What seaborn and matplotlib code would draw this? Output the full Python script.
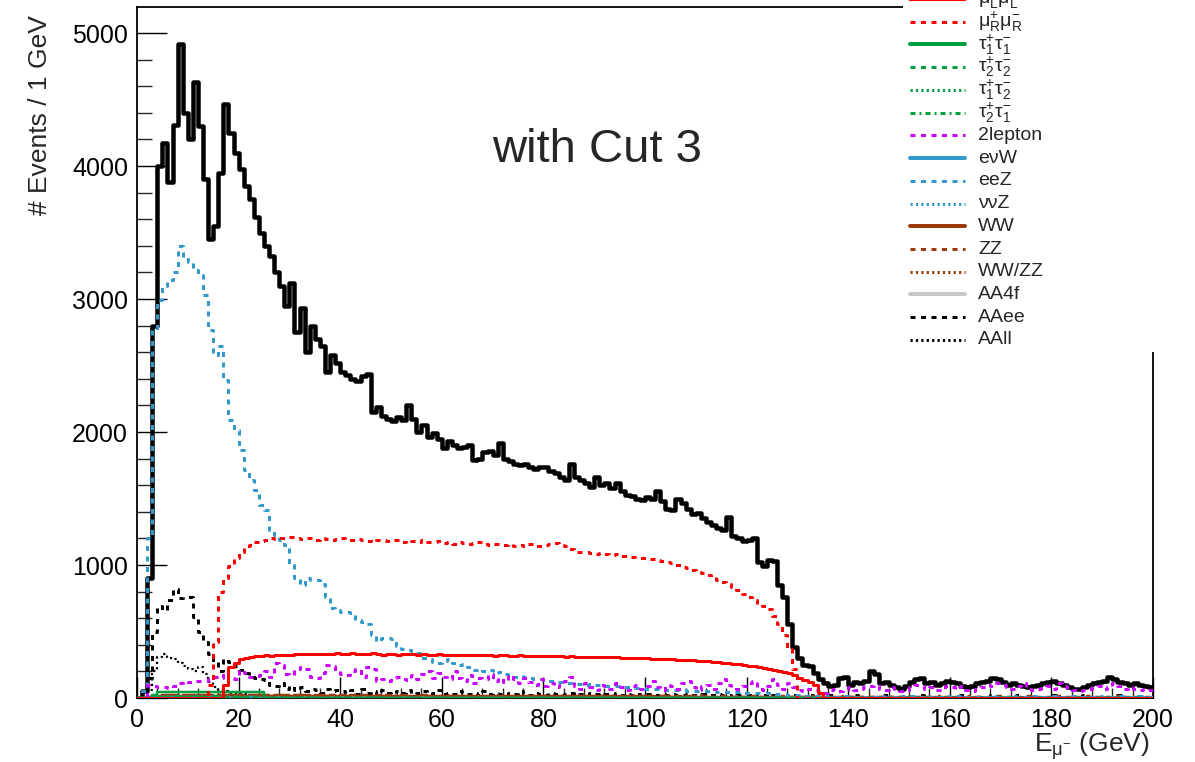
import numpy as np
import pandas as pd
import matplotlib
matplotlib.use("Agg")
import matplotlib.pyplot as plt
import seaborn as sns
from matplotlib.lines import Line2D
from matplotlib.patches import Rectangle
from matplotlib.ticker import MultipleLocator

# ---------------- data (events per 1 GeV bin, E from 0 to 200 GeV) ----------------
total = [
    0, 50, 900, 2800, 4000, 4170, 3880, 4310, 4920, 4400,
    4200, 4630, 4300, 3900, 3450, 3550, 3950, 4470, 4250, 4100,
    3980, 3850, 3750, 3620, 3500, 3400, 3320, 3200, 3100, 2950,
    3120, 2750, 2930, 2600, 2800, 2700, 2650, 2450, 2580, 2520,
    2450, 2430, 2400, 2380, 2420, 2440, 2150, 2190, 2120, 2100,
    2080, 2110, 2090, 2200, 2100, 2000, 2050, 1960, 1990, 1950,
    1880, 1930, 1900, 1880, 1890, 1900, 1790, 1800, 1850, 1860,
    1830, 1920, 1800, 1780, 1760, 1750, 1760, 1740, 1720, 1740,
    1740, 1710, 1690, 1660, 1640, 1760, 1660, 1640, 1620, 1590,
    1660, 1600, 1620, 1580, 1620, 1560, 1530, 1520, 1500, 1490,
    1510, 1500, 1560, 1480, 1420, 1410, 1500, 1470, 1420, 1380,
    1390, 1350, 1320, 1300, 1280, 1260, 1360, 1220, 1200, 1180,
    1190, 1200, 1020, 990, 1040, 1030, 850, 760, 560, 380,
    300, 250, 240, 190, 140, 110, 90, 100, 150, 160,
    100, 120, 110, 130, 200, 180, 110, 120, 100, 80,
    70, 90, 120, 140, 150, 110, 120, 100, 110, 130,
    120, 110, 90, 80, 90, 110, 120, 130, 150, 140,
    120, 100, 110, 100, 90, 80, 90, 100, 110, 120,
    130, 110, 100, 80, 70, 70, 80, 100, 110, 120,
    130, 160, 140, 120, 110, 100, 110, 100, 90, 80]

mumuR_start = 14
mumuR = [
    100, 420, 800, 900, 990, 1050, 1100, 1130, 1150, 1170, 1180, 1190, 1200,
    1195, 1205, 1200, 1210, 1200, 1195, 1205, 1200, 1190, 1200, 1195, 1185, 1195,
    1200, 1190, 1185, 1195, 1190, 1180, 1195, 1185, 1190, 1180,
    1185, 1190, 1175, 1185, 1180, 1170, 1185, 1175, 1170, 1180,
    1165, 1175, 1160, 1170, 1165, 1155, 1165, 1170, 1160, 1150,
    1160, 1155, 1150, 1160, 1145, 1150, 1140, 1155, 1145, 1140,
    1150, 1160, 1165, 1150, 1140, 1120, 1100, 1100, 1095, 1090,
    1085, 1090, 1080, 1075, 1080, 1070, 1065, 1060, 1055, 1050,
    1050, 1045, 1040, 1030, 1025, 1015, 1000, 985, 975, 965,
    950, 940, 925, 910, 890, 870, 860, 835, 810, 780,
    760, 740, 710, 690, 670, 620, 560, 470, 370, 220]

mumuL_start = 17
mumuL = [
    100, 230, 265, 290, 300, 310, 315, 315, 320, 318, 322, 320, 325, 325, 330,
    328, 330, 332, 330, 328, 332, 330, 335,
    332, 330, 335, 330, 328, 332, 335, 330, 325, 328,
    330, 326, 330, 332, 328, 325, 330, 327, 325, 328,
    326, 322, 325, 327, 323, 320, 324, 322, 320, 322,
    318, 320, 322, 318, 316, 320, 318, 315, 318, 316,
    315, 318, 314, 316, 312, 314, 312, 310, 312, 308,
    310, 306, 308, 305, 306, 302, 304, 300, 302, 298,
    298, 295, 296, 292, 293, 290, 289, 286, 285, 282,
    280, 277, 275, 272, 270, 266, 263, 258, 254, 249,
    244, 238, 232, 226, 218, 212, 205, 196, 186, 170,
    150, 135, 120, 100, 40]

eeZ = [
    0, 50, 1200, 2770, 2990, 3100, 3140, 3200, 3400, 3300,
    3280, 3220, 3180, 3030, 2770, 2580, 2650, 2390, 2090, 2015,
    1865, 1715, 1640, 1565, 1450, 1410, 1260, 1225, 1190, 1150,
    1000, 900, 850, 900, 890, 890, 860, 760, 680, 660,
    650, 645, 640, 590, 570, 555, 470, 430, 450, 450,
    440, 390, 370, 360, 350, 340, 300, 290, 270, 265,
    280, 290, 260, 250, 255, 230, 210, 215, 205, 210,
    190, 195, 180, 170, 160, 165, 160, 150, 140, 145,
    130, 125, 120, 120, 115, 110, 105, 108, 100, 102,
    95, 98, 90, 88, 90, 85, 82, 80, 78, 75,
    70, 68, 66, 65, 62, 60, 60, 58, 56, 55,
    54, 52, 50, 50, 48, 46, 45, 44, 42, 40,
    40, 38, 36, 35, 34, 32, 30, 28, 26, 24,
    20, 18, 16, 14, 12, 12, 10, 8, 10, 12,
    10, 8, 12, 10, 8, 10, 12, 10, 8, 10,
    12, 10, 14, 10, 8, 12, 10, 10, 8, 12,
    10, 12, 8, 10, 12, 10, 8, 10, 12, 10,
    8, 10, 12, 10, 10, 8, 12, 10, 8, 10,
    12, 10, 8, 10, 12, 10, 8, 10, 10, 12,
    10, 8, 10, 12, 10, 8, 10, 12, 10, 8]

lep2 = [
    0, 0, 100, 90, 80, 80, 75, 90, 110, 105,
    120, 130, 125, 130, 140, 160, 150, 190, 150, 140,
    210, 190, 160, 165, 170, 200, 160, 260, 250, 180,
    170, 220, 230, 220, 160, 150, 190, 250, 240, 200,
    180, 170, 200, 220, 160, 230, 220, 130, 140, 130,
    150, 160, 140, 135, 170, 140, 180, 200, 150, 190,
    160, 140, 200, 150, 130, 170, 110, 150, 140, 180,
    130, 150, 120, 170, 140, 110, 150, 120, 100, 140,
    90, 110, 80, 100, 130, 160, 90, 70, 110, 80,
    60, 100, 90, 70, 110, 80, 60, 90, 100, 70,
    90, 130, 80, 60, 100, 90, 70, 110, 130, 80,
    60, 90, 100, 70, 110, 140, 100, 80, 70, 90,
    110, 130, 80, 60, 90, 140, 100, 70, 110, 80,
    60, 50, 70, 60, 50, 40, 60, 70, 50, 60,
    80, 60, 70, 80, 90, 100, 70, 60, 80, 70,
    50, 60, 80, 100, 90, 70, 80, 60, 70, 90,
    80, 70, 90, 60, 50, 70, 80, 100, 90, 110,
    100, 80, 70, 90, 110, 80, 60, 70, 80, 90,
    70, 110, 90, 70, 60, 50, 60, 70, 80, 90,
    70, 80, 110, 90, 70, 80, 70, 60, 70, 60]

AAee = [
    0, 0, 150, 500, 690, 660, 740, 820, 750, 760,
    760, 610, 500, 420, 330, 270, 200, 290, 270, 240,
    210, 190, 170, 150, 140, 135, 100, 90, 110, 70,
    90, 60, 80, 50, 70, 60, 40, 70, 50, 60,
    50, 40, 60, 30, 70, 40, 50, 30, 60, 40,
    30, 50, 40, 60, 30, 40, 50, 30, 40, 60,
    30, 40, 30, 50, 40, 30, 40, 20, 50, 30,
    40, 30, 20, 40, 30, 50, 30, 20, 40, 30,
    20, 40, 30, 20, 30, 40, 20, 30, 20, 40,
    30, 20, 30, 20, 40, 20, 30, 20, 30, 20,
    30, 20, 20, 30, 20, 30, 20, 20, 30, 20,
    20, 30, 20, 20, 30, 20, 20, 10, 20, 20,
    20, 10, 20, 20, 10, 20, 10, 20, 10, 20,
    10, 10, 20, 10, 10, 10, 20, 10, 10, 10,
    10, 20, 10, 10, 10, 10, 10, 20, 10, 10,
    10, 10, 10, 10, 20, 10, 10, 10, 10, 10,
    10, 10, 20, 10, 10, 10, 10, 10, 20, 10,
    10, 10, 10, 20, 10, 10, 10, 10, 10, 10,
    20, 10, 10, 10, 10, 10, 20, 10, 10, 10,
    10, 10, 10, 20, 10, 10, 10, 10, 10, 10]

AAll_start = 2
AAll = [60, 200, 310, 330, 300, 290, 260, 240, 220, 200, 230, 180, 120, 80,
        60, 50, 40, 40, 30, 30, 25, 20, 20, 15, 15, 10, 10, 10, 10, 8, 8, 6,
        6, 5, 5, 4, 4, 3, 3, 2, 3, 2, 2, 1, 2, 1, 1, 1, 1, 0, 1, 0, 1, 0, 0, 1]

tau11_start = 3
tau11 = [20, 45, 44, 46, 45, 43, 46, 45, 44, 46, 45, 44, 43, 45, 46, 44, 45,
         43, 44, 45, 44, 42]
tau22_start = 4
tau22 = [10, 12, 11, 13, 12, 10, 11, 12, 13, 11, 10, 12, 11, 10, 9, 10, 8, 9,
         8, 7, 6]
tau12_start = 4
tau12 = [6, 8, 7, 8, 6, 7, 8, 7, 6, 7, 6, 5, 6, 5, 4, 5, 4, 3, 4, 3, 2]
tau21_start = 4
tau21 = [5, 6, 5, 7, 6, 5, 6, 5, 6, 5, 4, 5, 4, 3, 4, 3, 3, 2, 3, 2, 2]

enW_start = 2
enW = [3, 5, 6, 6, 7, 6, 5, 6, 5, 5, 4, 5, 4, 4, 5, 4, 3, 4, 3, 3,
       4, 3, 3, 2, 3, 3, 2, 3, 2, 2, 3, 2, 2, 2, 1, 2, 2, 1, 2, 1]
nnZ_start = 2
nnZ = [5, 8, 9, 10, 9, 8, 9, 8, 7, 8, 7, 6, 7, 6, 5, 6, 5, 5, 4, 5,
       4, 4, 3, 4, 3, 3, 4, 3, 2, 3, 3, 2, 2, 3, 2, 2, 1, 2, 2, 1]

WW = [
    0, 0, 10, 15, 18, 20, 22, 20, 18, 22,
    20, 21, 19, 22, 20, 18, 21, 20, 22, 19,
    20, 18, 21, 19, 22, 20, 18, 20, 21, 19,
    18, 20, 19, 21, 18, 20, 19, 17, 20, 18,
    19, 17, 20, 18, 19, 17, 18, 20, 17, 19,
    18, 16, 19, 17, 18, 16, 19, 17, 18, 16,
    17, 18, 16, 17, 15, 18, 16, 17, 15, 16,
    17, 15, 16, 14, 17, 15, 16, 14, 15, 16,
    14, 15, 13, 16, 14, 15, 13, 14, 15, 13,
    14, 12, 15, 13, 14, 12, 13, 14, 12, 13,
    12, 13, 11, 12, 13, 11, 12, 10, 12, 11,
    10, 12, 11, 10, 11, 9, 10, 11, 9, 10,
    9, 10, 8, 9, 10, 8, 9, 8, 7, 8,
    7, 6, 7, 6, 5, 6, 5, 4, 5, 4,
    4, 5, 4, 3, 4, 5, 4, 3, 4, 3,
    4, 3, 4, 5, 3, 4, 3, 4, 3, 4,
    3, 4, 3, 2, 3, 4, 3, 2, 3, 4,
    3, 2, 3, 3, 2, 3, 4, 3, 2, 3,
    2, 3, 2, 3, 4, 3, 2, 3, 2, 3,
    2, 3, 2, 3, 2, 3, 2, 2, 3, 2]

ZZ = [
    0, 0, 5, 8, 10, 12, 11, 10, 12, 11,
    10, 12, 11, 10, 12, 10, 11, 12, 10, 11,
    12, 10, 11, 10, 12, 11, 10, 11, 12, 10,
    11, 10, 12, 11, 10, 11, 10, 12, 10, 11,
    10, 11, 10, 12, 10, 11, 10, 11, 10, 12,
    10, 11, 10, 11, 10, 12, 10, 11, 10, 11,
    10, 12, 10, 11, 10, 11, 10, 12, 10, 11,
    10, 11, 10, 12, 10, 11, 10, 11, 10, 12,
    10, 11, 10, 11, 10, 12, 10, 11, 10, 11,
    10, 12, 10, 11, 10, 11, 10, 12, 10, 11,
    10, 11, 10, 12, 10, 11, 10, 11, 10, 12,
    10, 11, 10, 11, 10, 12, 10, 11, 10, 11,
    10, 12, 10, 11, 10, 11, 10, 12, 10, 11,
    10, 11, 10, 12, 10, 11, 10, 11, 10, 12,
    10, 11, 10, 11, 10, 12, 10, 11, 10, 11,
    10, 12, 10, 11, 10, 11, 10, 12, 10, 11,
    10, 11, 10, 12, 10, 11, 10, 11, 10, 12,
    10, 11, 10, 11, 10, 12, 10, 11, 10, 11,
    10, 12, 10, 11, 10, 11, 10, 12, 10, 11,
    10, 11, 10, 12, 10, 11, 10, 11, 10, 9]

WWZZ_start = 2
WWZZ = [2, 3, 4, 4, 5, 4, 5, 4, 4, 5, 4, 4, 5, 4, 4, 3, 4, 4, 3, 4,
        3, 4, 3, 3, 4, 3, 3, 3, 4, 3, 3, 2, 3, 3, 2, 3, 2, 3, 2, 2]

AA4f = [
    0, 0, 4, 6, 7, 6, 7, 6, 6, 7,
    6, 6, 7, 6, 6, 5, 6, 6, 5, 6,
    6, 5, 6, 5, 6, 5, 6, 5, 5, 6,
    5, 6, 5, 5, 6, 5, 5, 6, 5, 5,
    5, 6, 5, 5, 5, 6, 5, 5, 5, 6,
    5, 5, 5, 6, 5, 5, 5, 6, 5, 5,
    5, 6, 5, 5, 5, 6, 5, 5, 5, 6,
    5, 5, 5, 6, 5, 5, 5, 6, 5, 5,
    5, 6, 5, 5, 5, 6, 5, 5, 5, 6,
    5, 5, 5, 6, 5, 5, 5, 6, 5, 5,
    5, 6, 5, 5, 5, 6, 5, 5, 5, 6,
    5, 5, 5, 6, 5, 5, 5, 6, 5, 5,
    5, 6, 5, 5, 5, 6, 5, 5, 5, 6,
    5, 5, 5, 6, 5, 5, 5, 6, 5, 5,
    5, 6, 5, 5, 5, 6, 5, 5, 5, 6,
    5, 5, 5, 6, 5, 5, 5, 6, 5, 5,
    5, 6, 5, 5, 5, 6, 5, 5, 5, 6,
    5, 5, 5, 6, 5, 5, 5, 6, 5, 5,
    5, 6, 5, 5, 5, 6, 5, 5, 5, 6,
    5, 5, 5, 6, 5, 5, 5, 6, 5, 5]

y_ticks = [0, 1000, 2000, 3000, 4000, 5000]
x_ticks = [0, 20, 40, 60, 80, 100, 120, 140, 160, 180, 200]

legend_labels = [
    r"$\mathregular{\mu^{+}_{L}\mu^{-}_{L}}$",
    r"$\mathregular{\mu^{+}_{R}\mu^{-}_{R}}$",
    r"$\mathregular{\tau^{+}_{1}\tau^{-}_{1}}$",
    r"$\mathregular{\tau^{+}_{2}\tau^{-}_{2}}$",
    r"$\mathregular{\tau^{+}_{1}\tau^{-}_{2}}$",
    r"$\mathregular{\tau^{+}_{2}\tau^{-}_{1}}$",
    "2lepton", "eνW", "eeZ", "ννZ", "WW", "ZZ", "WW/ZZ", "AA4f", "AAee", "AAll",
]

# ---------------- styling ----------------
RED = "#ff0000"
GREEN = "#00a040"
MAGENTA = "#cc00ff"
BLUE = "#3399cc"
BROWN = "#9c3a0a"
GREY = "#c8c8c8"
BLACK = "#000000"

PT = 0.72  # points per pixel at 100 dpi
SOLID = "-"
DASH = (0, (5 * PT, 5.5 * PT))
DOT = (0, (2.2 * PT, 3.2 * PT))
DASHDOT = (0, (5 * PT, 4 * PT, 2 * PT, 4 * PT))

legend_styles = [
    (RED, SOLID), (RED, DASH), (GREEN, SOLID), (GREEN, DASH), (GREEN, DOT),
    (GREEN, DASHDOT), (MAGENTA, DASH), (BLUE, SOLID), (BLUE, DASH), (BLUE, DOT),
    (BROWN, SOLID), (BROWN, DASH), (BROWN, DOT), (GREY, SOLID), (BLACK, DASH),
    (BLACK, DOT),
]

sns.set_style("ticks")
plt.rcParams["font.family"] = ["Liberation Sans", "DejaVu Sans"]
plt.rcParams["mathtext.fontset"] = "custom"
plt.rcParams["mathtext.rm"] = "Liberation Sans"
plt.rcParams["mathtext.it"] = "Liberation Sans:italic"
plt.rcParams["mathtext.bf"] = "Liberation Sans:bold"
plt.rcParams["lines.scale_dashes"] = False

W, H = 1195, 762
fig = plt.figure(figsize=(W / 100, H / 100), dpi=100)
fig.patch.set_facecolor("white")
ax = fig.add_axes([137 / W, 1 - 698 / H, 1016 / W, 691 / H])
ax.set_facecolor("white")


def full(start, vals):
    v = [0] * start + list(vals)
    return v + [0] * (200 - len(v))


centers = np.arange(200) + 0.5


def draw(vals, color, lw_px, ls, z):
    df = pd.DataFrame({"E": centers, "w": np.asarray(vals, float)})
    sns.histplot(data=df, x="E", weights="w", binwidth=1, binrange=(0, 200),
                 element="step", fill=False, color=color,
                 linewidth=lw_px * PT, linestyle=ls, ax=ax, zorder=z)


draw(total, BLACK, 4.5, SOLID, 2)
draw(AA4f, GREY, 3, SOLID, 3)
draw(full(AAll_start, AAll), BLACK, 2.2, DOT, 3)
draw(AAee, BLACK, 3, DASH, 3)
draw(full(WWZZ_start, WWZZ), BROWN, 2.2, DOT, 3)
draw(ZZ, BROWN, 2.5, DASH, 3)
draw(WW, BROWN, 2.5, SOLID, 3)
draw(full(nnZ_start, nnZ), BLUE, 2.2, DOT, 3)
draw(eeZ, BLUE, 3, DASH, 4)
draw(full(enW_start, enW), BLUE, 2.5, SOLID, 3)
draw(lep2, MAGENTA, 3, DASH, 4)
draw(full(tau21_start, tau21), GREEN, 2.2, DASHDOT, 3)
draw(full(tau12_start, tau12), GREEN, 2.2, DOT, 3)
draw(full(tau22_start, tau22), GREEN, 2.5, DASH, 3)
draw(full(tau11_start, tau11), GREEN, 2.5, SOLID, 3)
draw(full(mumuR_start, mumuR), RED, 3, DASH, 5)
draw(full(mumuL_start, mumuL), RED, 3, SOLID, 5)

ax.set_xlim(0, 200)
ax.set_ylim(0, 5196)
ax.set_xlabel("")
ax.set_ylabel("")
ax.set_xticks(x_ticks)
ax.set_xticklabels([str(t) for t in x_ticks])
ax.set_yticks(y_ticks)
ax.set_yticklabels([str(t) for t in y_ticks])
ax.xaxis.set_minor_locator(MultipleLocator(4))
ax.yaxis.set_minor_locator(MultipleLocator(200))
ax.tick_params(axis="y", which="major", direction="in", length=30 * PT,
               width=1.4 * PT, labelsize=18, pad=6.5, colors="black")
ax.tick_params(axis="y", which="minor", direction="in", length=15 * PT,
               width=1.4 * PT)
ax.tick_params(axis="x", which="major", direction="in", length=21 * PT,
               width=1.4 * PT, labelsize=18, pad=7, colors="black")
ax.tick_params(axis="x", which="minor", direction="in", length=10 * PT,
               width=1.4 * PT)
for s in ax.spines.values():
    s.set_visible(True)
    s.set_color("black")
    s.set_linewidth(1.8 * PT)

fig.text(40 / W, 1 - 15 / H, "# Events / 1 GeV", rotation=90, ha="center",
         va="top", fontsize=19)
fig.text(1150 / W, 1 - 752 / H, r"E$_{\mathregular{\mu^{-}}}$ (GeV)",
         ha="right", va="baseline", fontsize=19)
fig.text(597 / W, 1 - 150 / H, "with Cut 3", ha="center", va="center",
         fontsize=34)

fig.add_artist(Rectangle((903 / W, 1 - 352 / H), (W - 903) / W, 352 / H,
                         transform=fig.transFigure, facecolor="white",
                         edgecolor="none", zorder=10))
y0, dy = -1.0, 22.73
for i, (lab, (col, ls)) in enumerate(zip(legend_labels, legend_styles)):
    ypx = y0 + i * dy
    yf = 1 - ypx / H
    lw = 4.0 if ls == SOLID else 3.0
    fig.add_artist(Line2D([910 / W, 965 / W], [yf, yf], transform=fig.transFigure,
                          color=col, linewidth=lw * PT, linestyle=ls, zorder=11))
    fig.text(978 / W, yf, lab, ha="left", va="center", fontsize=14, zorder=12)

fig.savefig("out.png", dpi=100, facecolor="white")
